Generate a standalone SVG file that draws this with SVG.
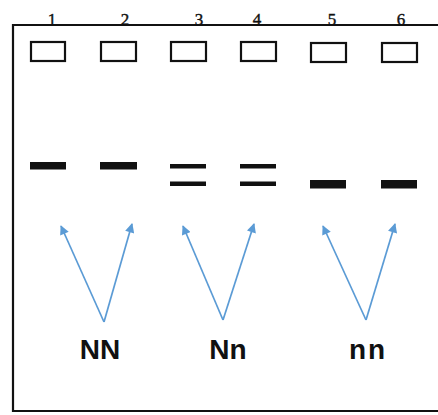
<svg xmlns="http://www.w3.org/2000/svg" width="438" height="415" viewBox="0 0 438 415">
  <defs>
    <style>
      .frame { fill: none; stroke: #111; stroke-width: 2.2; }
      .well { fill: #fff; stroke: #111; stroke-width: 2.2; }
      .band { fill: #111; }
      .lane { font-family: "Liberation Serif", serif; font-size: 17px; fill: #111; text-anchor: middle; stroke: #111; stroke-width: 0.4; }
      .geno { font-family: "Liberation Sans", Arial, sans-serif; font-weight: bold; font-size: 28px; fill: #111; text-anchor: middle; }
      .arrow { fill: none; stroke: #5B9BD5; stroke-width: 1.7; marker-end: url(#head); }
    </style>
    <marker id="head" viewBox="0 0 10 10" refX="9" refY="5" markerWidth="6" markerHeight="5.5" orient="auto" markerUnits="strokeWidth">
      <path d="M0,0 L10,5 L0,10 z" fill="#5B9BD5"/>
    </marker>
  </defs>

  <rect width="438" height="415" fill="#fff"/>

  <!-- gel outline (open on the right) -->
  <path class="frame" d="M440,25 H13 V411 H440"/>

  <!-- lane numbers -->
  <g id="lane-numbers">
    <text class="lane" x="52" y="25">1</text>
    <text class="lane" x="125" y="25">2</text>
    <text class="lane" x="199" y="25">3</text>
    <text class="lane" x="257" y="25">4</text>
    <text class="lane" x="332" y="25">5</text>
    <text class="lane" x="401" y="25">6</text>
  </g>

  <!-- lanes: well + bands -->
  <g id="lane1">
    <rect class="well" x="31" y="42" width="34" height="19"/>
    <rect class="band" x="30" y="162" width="36" height="7.5"/>
  </g>
  <g id="lane2">
    <rect class="well" x="101" y="42" width="35" height="19"/>
    <rect class="band" x="100" y="162" width="37" height="7.5"/>
  </g>
  <g id="lane3">
    <rect class="well" x="171" y="42" width="35" height="19"/>
    <rect class="band" x="170" y="164" width="36" height="4.5"/>
    <rect class="band" x="170" y="181.5" width="36" height="4.5"/>
  </g>
  <g id="lane4">
    <rect class="well" x="241" y="42" width="35" height="19"/>
    <rect class="band" x="240" y="164" width="36" height="4.5"/>
    <rect class="band" x="240" y="181.5" width="36" height="4.5"/>
  </g>
  <g id="lane5">
    <rect class="well" x="311" y="43" width="35" height="19"/>
    <rect class="band" x="310" y="180" width="36" height="8.5"/>
  </g>
  <g id="lane6">
    <rect class="well" x="382" y="43" width="35" height="19"/>
    <rect class="band" x="381" y="180" width="36" height="8.5"/>
  </g>

  <!-- genotype pointers -->
  <g id="connectors">
    <path class="arrow" d="M104,322 L61,226"/>
    <path class="arrow" d="M104,322 L132,224"/>
    <path class="arrow" d="M223,320 L183,226"/>
    <path class="arrow" d="M223,320 L254,224"/>
    <path class="arrow" d="M366,320 L323,226"/>
    <path class="arrow" d="M366,320 L395,224"/>
  </g>

  <!-- genotype labels -->
  <g id="label-NN"><text class="geno" x="100" y="359">NN</text></g>
  <g id="label-Nn"><text class="geno" x="228" y="359">Nn</text></g>
  <g id="label-nn"><text class="geno" x="368" y="359" letter-spacing="2">nn</text></g>
</svg>
